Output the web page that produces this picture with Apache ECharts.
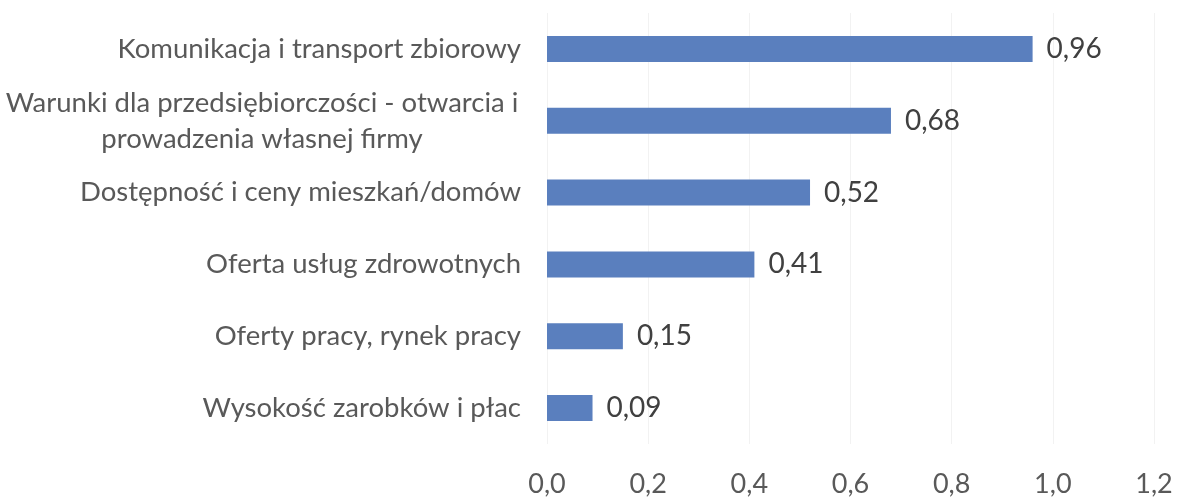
<!DOCTYPE html>
<html>
<head>
<meta charset="utf-8">
<script src="https://cdn.jsdelivr.net/npm/echarts@6/dist/echarts.min.js"></script>
<style>
  html, body { margin: 0; padding: 0; background: #fff; }
  #chart { width: 1186px; height: 498px; }
</style>
</head>
<body>
<div id="chart"></div>
<script>
// kategorie od góry do dołu
var categories = [
    'Komunikacja i transport zbiorowy',
    'Warunki dla przedsiębiorczości - otwarcia i\nprowadzenia własnej firmy',
    'Dostępność i ceny mieszkań/domów',
    'Oferta usług zdrowotnych',
    'Oferty pracy, rynek pracy',
    'Wysokość zarobków i płac'
];
var values = [0.96, 0.68, 0.52, 0.41, 0.15, 0.09];
var xTicks = { min: 0, max: 1.2, step: 0.2 };

function plNum(v, digits) {
    return v.toFixed(digits).replace('.', ',');
}

var chart = echarts.init(document.getElementById('chart'));
var font = 'Lato';

var option = {
    animation: false,
    grid: {
        left: 546,
        right: 32,
        top: 13,
        bottom: 52
    },
    xAxis: {
        type: 'value',
        min: xTicks.min,
        max: xTicks.max,
        interval: xTicks.step,
        axisLine: { show: false },
        axisTick: { show: false },
        splitLine: { lineStyle: { color: '#f2f2f2', width: 1 } },
        axisLabel: {
            margin: 27,
            color: '#595959',
            fontFamily: font,
            fontSize: 27,
            formatter: function (v) { return plNum(v, 1); }
        }
    },
    yAxis: {
        type: 'category',
        inverse: true,
        data: categories,
        axisLine: { show: false },
        axisTick: { show: false },
        axisLabel: {
            margin: 26,
            color: '#595959',
            fontFamily: font,
            fontSize: 27.5,
            lineHeight: 36,
            align: 'right',
            // wiersze zawiniętej etykiety wyśrodkowane jak w Excelu
            formatter: function (v) {
                var lines = v.split('\n');
                if (lines.length < 2) return v;
                return lines.map(function (l) { return '{c|' + l + '}'; }).join('\n');
            },
            rich: {
                c: {
                    width: 518,
                    align: 'center',
                    color: '#595959',
                    fontFamily: font,
                    fontSize: 27.5,
                    lineHeight: 36
                }
            }
        }
    },
    series: [{
        type: 'bar',
        data: values,
        barWidth: 26,
        itemStyle: { color: '#5A7FBE' },
        label: {
            show: true,
            position: 'right',
            distance: 14,
            color: '#404040',
            fontFamily: font,
            fontSize: 28,
            formatter: function (p) { return plNum(p.value, 2); }
        }
    }]
};
chart.setOption(option);
</script>
</body>
</html>
